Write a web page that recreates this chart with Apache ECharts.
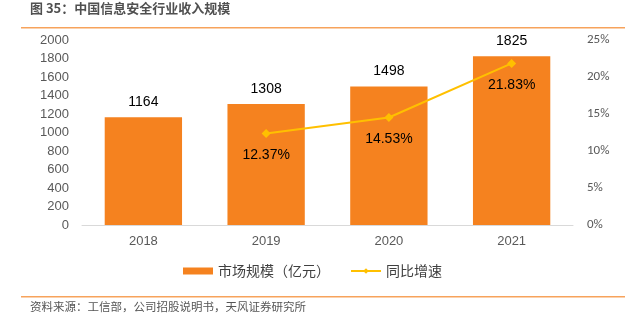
<!DOCTYPE html>
<html><head><meta charset="utf-8">
<script src="https://cdn.jsdelivr.net/npm/echarts@6/dist/echarts.min.js"></script>
<style>html,body{margin:0;padding:0;background:#fff}#c{width:625px;height:321px}</style>
</head><body><div id="c"></div>
<script>
const categories = ['2018','2019','2020','2021'];
const marketSize = [1164, 1308, 1498, 1825];
const growth = [null, 12.37, 14.53, 21.83];

const chart = echarts.init(document.getElementById('c'));
const font = '"Noto Sans CJK SC", "Noto Sans", sans-serif';
chart.setOption({
  animation: false,
  textStyle: {fontFamily: font},
  graphic: [
    {type:'text', left: 30, top: 2, style:{text:'图 35：中国信息安全行业收入规模', font:'bold 13px '+font, fill:'#505050'}},
    {type:'rect', shape:{x:21, y:27, width:604, height:1.5}, style:{fill:'#F7A35C'}},
    {type:'rect', shape:{x:21, y:296, width:604, height:1.5}, style:{fill:'#F7A35C'}},
    {type:'text', left: 30, top: 301, style:{text:'资料来源：工信部，公司招股说明书，天风证券研究所', font:'11.5px '+font, fill:'#555'}}
  ],
  grid: {left: 82, right: 52, top: 40, bottom: 96},
  legend: {
    bottom: 38, left: 'center', itemGap: 20, itemWidth: 30, itemHeight: 7,
    textStyle: {fontSize: 14, color: '#404040', fontFamily: font},
    data: [
      {name:'市场规模（亿元）', icon:'rect'},
      {name:'同比增速'}
    ]
  },
  xAxis: {
    type: 'category', data: categories,
    axisLine: {lineStyle: {color: '#d9d9d9'}},
    axisTick: {show: false},
    axisLabel: {color: '#595959', fontSize: 13, margin: 10, fontFamily: 'Arial, Liberation Sans'}
  },
  yAxis: [
    {type:'value', min:0, max:2000, interval:200,
     splitLine:{show:false}, axisLine:{show:false}, axisTick:{show:false},
     axisLabel:{color:'#595959', fontSize:13, margin:13, formatter: v => String(v), fontFamily:'Arial, Liberation Sans'}},
    {type:'value', min:0, max:25, interval:5,
     splitLine:{show:false}, axisLine:{show:false}, axisTick:{show:false},
     axisLabel:{color:'#595959', fontSize:13, margin:14, formatter:'{value}%', fontFamily:'Carlito, Liberation Sans'}}
  ],
  series: [
    {name:'市场规模（亿元）', type:'bar', data: marketSize, barWidth: '63%',
     itemStyle:{color:'#F5821F'},
     label:{show:true, position:'top', color:'#000', fontSize:14, distance:8, fontFamily:'Arial, Liberation Sans'}},
    {name:'同比增速', type:'line', yAxisIndex:1, data: growth,
     symbol:'diamond', symbolSize:9,
     lineStyle:{color:'#FFC000', width:2}, itemStyle:{color:'#FFC000'},
     label:{show:true, position:'bottom', distance:10, color:'#000', fontSize:14, formatter: p => p.value.toFixed(2)+'%', fontFamily:'Arial, Liberation Sans'}}
  ]
});
</script></body></html>
